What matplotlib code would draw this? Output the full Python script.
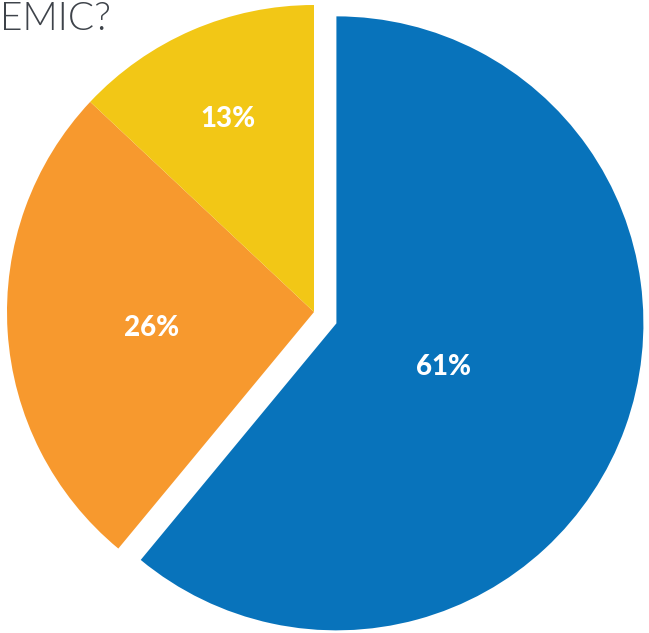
import matplotlib
matplotlib.use("Agg")
import matplotlib.pyplot as plt
import numpy as np

# Survey answer shares (percent), drawn clockwise from 12 o'clock
categories = ["Blue group", "Orange group", "Yellow group"]
shares = [61, 26, 13]
label_texts = ["61%", "26%", "13%"]
colors = ["#0873BB", "#F7992E", "#F2C716"]
title_text = "EMIC?"

W, H, DPI = 649, 633, 100
fig = plt.figure(figsize=(W / DPI, H / DPI), dpi=DPI)
ax = fig.add_axes([0, 0, 1, 1])

wedges, _ = ax.pie(shares, colors=colors, startangle=90, counterclock=False,
                   radius=1.0, wedgeprops=dict(linewidth=0))

# pull the largest slice out toward the lower right
blue_offset = (0.073, -0.037)
wedges[0].set_center(blue_offset)

# label radii as a fraction of the radius, per slice
label_r = [0.37, 0.53, 0.705]
for w, txt, r in zip(wedges, label_texts, label_r):
    mid = np.deg2rad((w.theta1 + w.theta2) / 2)
    cx, cy = w.center
    ax.text(cx + r * np.cos(mid), cy + r * np.sin(mid) - 0.01, txt,
            ha="center", va="center_baseline", color="white",
            fontsize=20, fontweight="black", family=["Lato", "DejaVu Sans"])

scale = 307.0  # pixels per unit radius
cx_px, cy_px = 314.0, 321.0
ax.set_aspect("auto")
ax.set_xlim(-cx_px / scale, (W - cx_px) / scale)
ax.set_ylim(-cy_px / scale, (H - cy_px) / scale)
ax.axis("off")

fig.text(0.0, 0.999, title_text, ha="left", va="top", color="#3E434A",
         fontsize=28, fontweight=300, family=["Lato", "DejaVu Sans"])

fig.savefig("out.png", dpi=DPI, facecolor="white")
